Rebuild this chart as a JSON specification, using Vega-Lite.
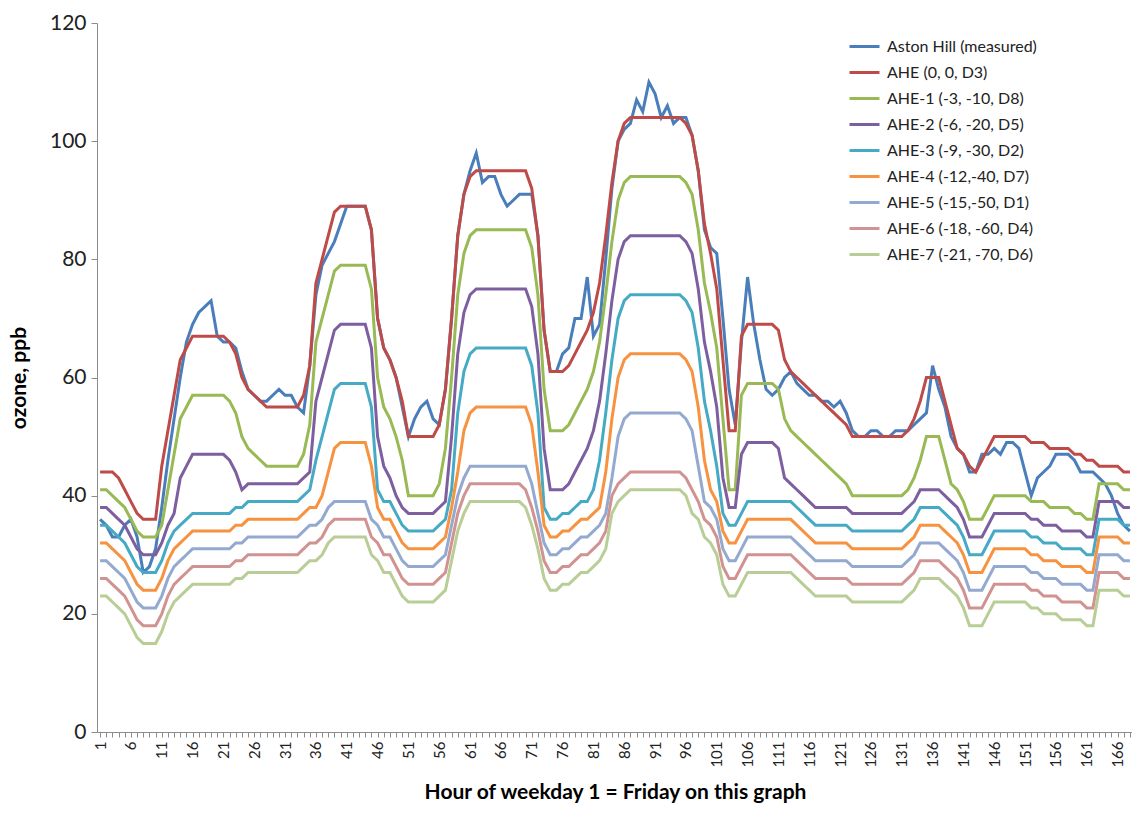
{
"$schema": "https://vega.github.io/schema/vega-lite/v6.json",
"width": 1036, "height": 709,
"autosize": {"type": "none"},
"padding": {"left": 97, "top": 23, "right": 0, "bottom": 82},
"background": "white",
"config": {"view": {"stroke": null}, "font": "Lato"},
"datasets": {
"names": [
{"key":"AH","series":"Aston Hill (measured)"},
{"key":"A0","series":"AHE (0, 0, D3)"},
{"key":"A1","series":"AHE-1 (-3, -10, D8)"},
{"key":"A2","series":"AHE-2 (-6, -20, D5)"},
{"key":"A3","series":"AHE-3 (-9, -30, D2)"},
{"key":"A4","series":"AHE-4 (-12,-40, D7)"},
{"key":"A5","series":"AHE-5 (-15,-50, D1)"},
{"key":"A6","series":"AHE-6 (-18, -60, D4)"},
{"key":"A7","series":"AHE-7 (-21, -70, D6)"}
],
"ozone": [
{"h":1,"AH":36,"A0":44,"A1":41,"A2":38,"A3":35,"A4":32,"A5":29,"A6":26,"A7":23},
{"h":2,"AH":35,"A0":44,"A1":41,"A2":38,"A3":35,"A4":32,"A5":29,"A6":26,"A7":23},
{"h":3,"AH":33,"A0":44,"A1":40,"A2":37,"A3":34,"A4":31,"A5":28,"A6":25,"A7":22},
{"h":4,"AH":33,"A0":43,"A1":39,"A2":36,"A3":33,"A4":30,"A5":27,"A6":24,"A7":21},
{"h":5,"AH":35,"A0":41,"A1":38,"A2":35,"A3":32,"A4":29,"A5":26,"A6":23,"A7":20},
{"h":6,"AH":36,"A0":39,"A1":36,"A2":33,"A3":30,"A4":27,"A5":24,"A6":21,"A7":18},
{"h":7,"AH":33,"A0":37,"A1":34,"A2":31,"A3":28,"A4":25,"A5":22,"A6":19,"A7":16},
{"h":8,"AH":27,"A0":36,"A1":33,"A2":30,"A3":27,"A4":24,"A5":21,"A6":18,"A7":15},
{"h":9,"AH":28,"A0":36,"A1":33,"A2":30,"A3":27,"A4":24,"A5":21,"A6":18,"A7":15},
{"h":10,"AH":31,"A0":36,"A1":33,"A2":30,"A3":27,"A4":24,"A5":21,"A6":18,"A7":15},
{"h":11,"AH":38,"A0":45,"A1":35,"A2":32,"A3":29,"A4":26,"A5":23,"A6":20,"A7":17},
{"h":12,"AH":46,"A0":51,"A1":41,"A2":35,"A3":32,"A4":29,"A5":26,"A6":23,"A7":20},
{"h":13,"AH":53,"A0":57,"A1":47,"A2":37,"A3":34,"A4":31,"A5":28,"A6":25,"A7":22},
{"h":14,"AH":60,"A0":63,"A1":53,"A2":43,"A3":35,"A4":32,"A5":29,"A6":26,"A7":23},
{"h":15,"AH":66,"A0":65,"A1":55,"A2":45,"A3":36,"A4":33,"A5":30,"A6":27,"A7":24},
{"h":16,"AH":69,"A0":67,"A1":57,"A2":47,"A3":37,"A4":34,"A5":31,"A6":28,"A7":25},
{"h":17,"AH":71,"A0":67,"A1":57,"A2":47,"A3":37,"A4":34,"A5":31,"A6":28,"A7":25},
{"h":18,"AH":72,"A0":67,"A1":57,"A2":47,"A3":37,"A4":34,"A5":31,"A6":28,"A7":25},
{"h":19,"AH":73,"A0":67,"A1":57,"A2":47,"A3":37,"A4":34,"A5":31,"A6":28,"A7":25},
{"h":20,"AH":67,"A0":67,"A1":57,"A2":47,"A3":37,"A4":34,"A5":31,"A6":28,"A7":25},
{"h":21,"AH":66,"A0":67,"A1":57,"A2":47,"A3":37,"A4":34,"A5":31,"A6":28,"A7":25},
{"h":22,"AH":66,"A0":66,"A1":56,"A2":46,"A3":37,"A4":34,"A5":31,"A6":28,"A7":25},
{"h":23,"AH":65,"A0":64,"A1":54,"A2":44,"A3":38,"A4":35,"A5":32,"A6":29,"A7":26},
{"h":24,"AH":61,"A0":60,"A1":50,"A2":41,"A3":38,"A4":35,"A5":32,"A6":29,"A7":26},
{"h":25,"AH":58,"A0":58,"A1":48,"A2":42,"A3":39,"A4":36,"A5":33,"A6":30,"A7":27},
{"h":26,"AH":57,"A0":57,"A1":47,"A2":42,"A3":39,"A4":36,"A5":33,"A6":30,"A7":27},
{"h":27,"AH":56,"A0":56,"A1":46,"A2":42,"A3":39,"A4":36,"A5":33,"A6":30,"A7":27},
{"h":28,"AH":56,"A0":55,"A1":45,"A2":42,"A3":39,"A4":36,"A5":33,"A6":30,"A7":27},
{"h":29,"AH":57,"A0":55,"A1":45,"A2":42,"A3":39,"A4":36,"A5":33,"A6":30,"A7":27},
{"h":30,"AH":58,"A0":55,"A1":45,"A2":42,"A3":39,"A4":36,"A5":33,"A6":30,"A7":27},
{"h":31,"AH":57,"A0":55,"A1":45,"A2":42,"A3":39,"A4":36,"A5":33,"A6":30,"A7":27},
{"h":32,"AH":57,"A0":55,"A1":45,"A2":42,"A3":39,"A4":36,"A5":33,"A6":30,"A7":27},
{"h":33,"AH":55,"A0":55,"A1":45,"A2":42,"A3":39,"A4":36,"A5":33,"A6":30,"A7":27},
{"h":34,"AH":54,"A0":57,"A1":47,"A2":43,"A3":40,"A4":37,"A5":34,"A6":31,"A7":28},
{"h":35,"AH":62,"A0":62,"A1":52,"A2":44,"A3":41,"A4":38,"A5":35,"A6":32,"A7":29},
{"h":36,"AH":74,"A0":76,"A1":66,"A2":56,"A3":46,"A4":38,"A5":35,"A6":32,"A7":29},
{"h":37,"AH":79,"A0":80,"A1":70,"A2":60,"A3":50,"A4":40,"A5":36,"A6":33,"A7":30},
{"h":38,"AH":81,"A0":84,"A1":74,"A2":64,"A3":54,"A4":44,"A5":38,"A6":35,"A7":32},
{"h":39,"AH":83,"A0":88,"A1":78,"A2":68,"A3":58,"A4":48,"A5":39,"A6":36,"A7":33},
{"h":40,"AH":86,"A0":89,"A1":79,"A2":69,"A3":59,"A4":49,"A5":39,"A6":36,"A7":33},
{"h":41,"AH":89,"A0":89,"A1":79,"A2":69,"A3":59,"A4":49,"A5":39,"A6":36,"A7":33},
{"h":42,"AH":89,"A0":89,"A1":79,"A2":69,"A3":59,"A4":49,"A5":39,"A6":36,"A7":33},
{"h":43,"AH":89,"A0":89,"A1":79,"A2":69,"A3":59,"A4":49,"A5":39,"A6":36,"A7":33},
{"h":44,"AH":89,"A0":89,"A1":79,"A2":69,"A3":59,"A4":49,"A5":39,"A6":36,"A7":33},
{"h":45,"AH":85,"A0":85,"A1":75,"A2":65,"A3":55,"A4":45,"A5":36,"A6":33,"A7":30},
{"h":46,"AH":70,"A0":70,"A1":60,"A2":50,"A3":41,"A4":38,"A5":35,"A6":32,"A7":29},
{"h":47,"AH":65,"A0":65,"A1":55,"A2":45,"A3":39,"A4":36,"A5":33,"A6":30,"A7":27},
{"h":48,"AH":63,"A0":63,"A1":53,"A2":43,"A3":39,"A4":36,"A5":33,"A6":30,"A7":27},
{"h":49,"AH":60,"A0":60,"A1":50,"A2":40,"A3":37,"A4":34,"A5":31,"A6":28,"A7":25},
{"h":50,"AH":55,"A0":56,"A1":46,"A2":38,"A3":35,"A4":32,"A5":29,"A6":26,"A7":23},
{"h":51,"AH":50,"A0":50,"A1":40,"A2":37,"A3":34,"A4":31,"A5":28,"A6":25,"A7":22},
{"h":52,"AH":53,"A0":50,"A1":40,"A2":37,"A3":34,"A4":31,"A5":28,"A6":25,"A7":22},
{"h":53,"AH":55,"A0":50,"A1":40,"A2":37,"A3":34,"A4":31,"A5":28,"A6":25,"A7":22},
{"h":54,"AH":56,"A0":50,"A1":40,"A2":37,"A3":34,"A4":31,"A5":28,"A6":25,"A7":22},
{"h":55,"AH":53,"A0":50,"A1":40,"A2":37,"A3":34,"A4":31,"A5":28,"A6":25,"A7":22},
{"h":56,"AH":52,"A0":52,"A1":42,"A2":38,"A3":35,"A4":32,"A5":29,"A6":26,"A7":23},
{"h":57,"AH":58,"A0":58,"A1":48,"A2":39,"A3":36,"A4":33,"A5":30,"A6":27,"A7":24},
{"h":58,"AH":70,"A0":70,"A1":60,"A2":50,"A3":41,"A4":38,"A5":35,"A6":32,"A7":29},
{"h":59,"AH":84,"A0":84,"A1":74,"A2":64,"A3":54,"A4":44,"A5":40,"A6":37,"A7":34},
{"h":60,"AH":91,"A0":91,"A1":81,"A2":71,"A3":61,"A4":51,"A5":43,"A6":40,"A7":37},
{"h":61,"AH":95,"A0":94,"A1":84,"A2":74,"A3":64,"A4":54,"A5":45,"A6":42,"A7":39},
{"h":62,"AH":98,"A0":95,"A1":85,"A2":75,"A3":65,"A4":55,"A5":45,"A6":42,"A7":39},
{"h":63,"AH":93,"A0":95,"A1":85,"A2":75,"A3":65,"A4":55,"A5":45,"A6":42,"A7":39},
{"h":64,"AH":94,"A0":95,"A1":85,"A2":75,"A3":65,"A4":55,"A5":45,"A6":42,"A7":39},
{"h":65,"AH":94,"A0":95,"A1":85,"A2":75,"A3":65,"A4":55,"A5":45,"A6":42,"A7":39},
{"h":66,"AH":91,"A0":95,"A1":85,"A2":75,"A3":65,"A4":55,"A5":45,"A6":42,"A7":39},
{"h":67,"AH":89,"A0":95,"A1":85,"A2":75,"A3":65,"A4":55,"A5":45,"A6":42,"A7":39},
{"h":68,"AH":90,"A0":95,"A1":85,"A2":75,"A3":65,"A4":55,"A5":45,"A6":42,"A7":39},
{"h":69,"AH":91,"A0":95,"A1":85,"A2":75,"A3":65,"A4":55,"A5":45,"A6":42,"A7":39},
{"h":70,"AH":91,"A0":95,"A1":85,"A2":75,"A3":65,"A4":55,"A5":45,"A6":41,"A7":38},
{"h":71,"AH":91,"A0":92,"A1":82,"A2":72,"A3":62,"A4":52,"A5":42,"A6":38,"A7":35},
{"h":72,"AH":84,"A0":84,"A1":74,"A2":64,"A3":54,"A4":44,"A5":37,"A6":34,"A7":31},
{"h":73,"AH":68,"A0":68,"A1":58,"A2":48,"A3":38,"A4":35,"A5":32,"A6":29,"A7":26},
{"h":74,"AH":61,"A0":61,"A1":51,"A2":41,"A3":36,"A4":33,"A5":30,"A6":27,"A7":24},
{"h":75,"AH":61,"A0":61,"A1":51,"A2":41,"A3":36,"A4":33,"A5":30,"A6":27,"A7":24},
{"h":76,"AH":64,"A0":61,"A1":51,"A2":41,"A3":37,"A4":34,"A5":31,"A6":28,"A7":25},
{"h":77,"AH":65,"A0":62,"A1":52,"A2":42,"A3":37,"A4":34,"A5":31,"A6":28,"A7":25},
{"h":78,"AH":70,"A0":64,"A1":54,"A2":44,"A3":38,"A4":35,"A5":32,"A6":29,"A7":26},
{"h":79,"AH":70,"A0":66,"A1":56,"A2":46,"A3":39,"A4":36,"A5":33,"A6":30,"A7":27},
{"h":80,"AH":77,"A0":68,"A1":58,"A2":48,"A3":39,"A4":36,"A5":33,"A6":30,"A7":27},
{"h":81,"AH":67,"A0":71,"A1":61,"A2":51,"A3":41,"A4":37,"A5":34,"A6":31,"A7":28},
{"h":82,"AH":69,"A0":76,"A1":66,"A2":56,"A3":46,"A4":38,"A5":35,"A6":32,"A7":29},
{"h":83,"AH":80,"A0":84,"A1":74,"A2":64,"A3":54,"A4":44,"A5":37,"A6":34,"A7":31},
{"h":84,"AH":92,"A0":93,"A1":83,"A2":73,"A3":63,"A4":53,"A5":43,"A6":40,"A7":37},
{"h":85,"AH":100,"A0":100,"A1":90,"A2":80,"A3":70,"A4":60,"A5":50,"A6":42,"A7":39},
{"h":86,"AH":102,"A0":103,"A1":93,"A2":83,"A3":73,"A4":63,"A5":53,"A6":43,"A7":40},
{"h":87,"AH":103,"A0":104,"A1":94,"A2":84,"A3":74,"A4":64,"A5":54,"A6":44,"A7":41},
{"h":88,"AH":107,"A0":104,"A1":94,"A2":84,"A3":74,"A4":64,"A5":54,"A6":44,"A7":41},
{"h":89,"AH":105,"A0":104,"A1":94,"A2":84,"A3":74,"A4":64,"A5":54,"A6":44,"A7":41},
{"h":90,"AH":110,"A0":104,"A1":94,"A2":84,"A3":74,"A4":64,"A5":54,"A6":44,"A7":41},
{"h":91,"AH":108,"A0":104,"A1":94,"A2":84,"A3":74,"A4":64,"A5":54,"A6":44,"A7":41},
{"h":92,"AH":104,"A0":104,"A1":94,"A2":84,"A3":74,"A4":64,"A5":54,"A6":44,"A7":41},
{"h":93,"AH":106,"A0":104,"A1":94,"A2":84,"A3":74,"A4":64,"A5":54,"A6":44,"A7":41},
{"h":94,"AH":103,"A0":104,"A1":94,"A2":84,"A3":74,"A4":64,"A5":54,"A6":44,"A7":41},
{"h":95,"AH":104,"A0":104,"A1":94,"A2":84,"A3":74,"A4":64,"A5":54,"A6":44,"A7":41},
{"h":96,"AH":104,"A0":103,"A1":93,"A2":83,"A3":73,"A4":63,"A5":53,"A6":43,"A7":40},
{"h":97,"AH":101,"A0":101,"A1":91,"A2":81,"A3":71,"A4":61,"A5":51,"A6":41,"A7":37},
{"h":98,"AH":95,"A0":95,"A1":85,"A2":75,"A3":65,"A4":55,"A5":45,"A6":39,"A7":36},
{"h":99,"AH":85,"A0":86,"A1":76,"A2":66,"A3":56,"A4":46,"A5":39,"A6":36,"A7":33},
{"h":100,"AH":82,"A0":81,"A1":71,"A2":61,"A3":51,"A4":41,"A5":38,"A6":35,"A7":32},
{"h":101,"AH":81,"A0":75,"A1":65,"A2":55,"A3":45,"A4":39,"A5":36,"A6":33,"A7":30},
{"h":102,"AH":70,"A0":63,"A1":53,"A2":43,"A3":37,"A4":34,"A5":31,"A6":28,"A7":25},
{"h":103,"AH":58,"A0":51,"A1":41,"A2":38,"A3":35,"A4":32,"A5":29,"A6":26,"A7":23},
{"h":104,"AH":52,"A0":51,"A1":41,"A2":38,"A3":35,"A4":32,"A5":29,"A6":26,"A7":23},
{"h":105,"AH":66,"A0":67,"A1":57,"A2":47,"A3":37,"A4":34,"A5":31,"A6":28,"A7":25},
{"h":106,"AH":77,"A0":69,"A1":59,"A2":49,"A3":39,"A4":36,"A5":33,"A6":30,"A7":27},
{"h":107,"AH":69,"A0":69,"A1":59,"A2":49,"A3":39,"A4":36,"A5":33,"A6":30,"A7":27},
{"h":108,"AH":63,"A0":69,"A1":59,"A2":49,"A3":39,"A4":36,"A5":33,"A6":30,"A7":27},
{"h":109,"AH":58,"A0":69,"A1":59,"A2":49,"A3":39,"A4":36,"A5":33,"A6":30,"A7":27},
{"h":110,"AH":57,"A0":69,"A1":59,"A2":49,"A3":39,"A4":36,"A5":33,"A6":30,"A7":27},
{"h":111,"AH":58,"A0":68,"A1":58,"A2":48,"A3":39,"A4":36,"A5":33,"A6":30,"A7":27},
{"h":112,"AH":60,"A0":63,"A1":53,"A2":43,"A3":39,"A4":36,"A5":33,"A6":30,"A7":27},
{"h":113,"AH":61,"A0":61,"A1":51,"A2":42,"A3":39,"A4":36,"A5":33,"A6":30,"A7":27},
{"h":114,"AH":59,"A0":60,"A1":50,"A2":41,"A3":38,"A4":35,"A5":32,"A6":29,"A7":26},
{"h":115,"AH":58,"A0":59,"A1":49,"A2":40,"A3":37,"A4":34,"A5":31,"A6":28,"A7":25},
{"h":116,"AH":57,"A0":58,"A1":48,"A2":39,"A3":36,"A4":33,"A5":30,"A6":27,"A7":24},
{"h":117,"AH":57,"A0":57,"A1":47,"A2":38,"A3":35,"A4":32,"A5":29,"A6":26,"A7":23},
{"h":118,"AH":56,"A0":56,"A1":46,"A2":38,"A3":35,"A4":32,"A5":29,"A6":26,"A7":23},
{"h":119,"AH":56,"A0":55,"A1":45,"A2":38,"A3":35,"A4":32,"A5":29,"A6":26,"A7":23},
{"h":120,"AH":55,"A0":54,"A1":44,"A2":38,"A3":35,"A4":32,"A5":29,"A6":26,"A7":23},
{"h":121,"AH":56,"A0":53,"A1":43,"A2":38,"A3":35,"A4":32,"A5":29,"A6":26,"A7":23},
{"h":122,"AH":54,"A0":52,"A1":42,"A2":38,"A3":35,"A4":32,"A5":29,"A6":26,"A7":23},
{"h":123,"AH":51,"A0":50,"A1":40,"A2":37,"A3":34,"A4":31,"A5":28,"A6":25,"A7":22},
{"h":124,"AH":50,"A0":50,"A1":40,"A2":37,"A3":34,"A4":31,"A5":28,"A6":25,"A7":22},
{"h":125,"AH":50,"A0":50,"A1":40,"A2":37,"A3":34,"A4":31,"A5":28,"A6":25,"A7":22},
{"h":126,"AH":51,"A0":50,"A1":40,"A2":37,"A3":34,"A4":31,"A5":28,"A6":25,"A7":22},
{"h":127,"AH":51,"A0":50,"A1":40,"A2":37,"A3":34,"A4":31,"A5":28,"A6":25,"A7":22},
{"h":128,"AH":50,"A0":50,"A1":40,"A2":37,"A3":34,"A4":31,"A5":28,"A6":25,"A7":22},
{"h":129,"AH":50,"A0":50,"A1":40,"A2":37,"A3":34,"A4":31,"A5":28,"A6":25,"A7":22},
{"h":130,"AH":51,"A0":50,"A1":40,"A2":37,"A3":34,"A4":31,"A5":28,"A6":25,"A7":22},
{"h":131,"AH":51,"A0":50,"A1":40,"A2":37,"A3":34,"A4":31,"A5":28,"A6":25,"A7":22},
{"h":132,"AH":51,"A0":51,"A1":41,"A2":38,"A3":35,"A4":32,"A5":29,"A6":26,"A7":23},
{"h":133,"AH":52,"A0":53,"A1":43,"A2":39,"A3":36,"A4":33,"A5":30,"A6":27,"A7":24},
{"h":134,"AH":53,"A0":56,"A1":46,"A2":41,"A3":38,"A4":35,"A5":32,"A6":29,"A7":26},
{"h":135,"AH":54,"A0":60,"A1":50,"A2":41,"A3":38,"A4":35,"A5":32,"A6":29,"A7":26},
{"h":136,"AH":62,"A0":60,"A1":50,"A2":41,"A3":38,"A4":35,"A5":32,"A6":29,"A7":26},
{"h":137,"AH":58,"A0":60,"A1":50,"A2":41,"A3":38,"A4":35,"A5":32,"A6":29,"A7":26},
{"h":138,"AH":55,"A0":56,"A1":46,"A2":40,"A3":37,"A4":34,"A5":31,"A6":28,"A7":25},
{"h":139,"AH":50,"A0":52,"A1":42,"A2":39,"A3":36,"A4":33,"A5":30,"A6":27,"A7":24},
{"h":140,"AH":48,"A0":48,"A1":41,"A2":38,"A3":35,"A4":32,"A5":29,"A6":26,"A7":23},
{"h":141,"AH":47,"A0":47,"A1":39,"A2":36,"A3":33,"A4":30,"A5":27,"A6":24,"A7":21},
{"h":142,"AH":44,"A0":45,"A1":36,"A2":33,"A3":30,"A4":27,"A5":24,"A6":21,"A7":18},
{"h":143,"AH":44,"A0":44,"A1":36,"A2":33,"A3":30,"A4":27,"A5":24,"A6":21,"A7":18},
{"h":144,"AH":47,"A0":46,"A1":36,"A2":33,"A3":30,"A4":27,"A5":24,"A6":21,"A7":18},
{"h":145,"AH":47,"A0":48,"A1":38,"A2":35,"A3":32,"A4":29,"A5":26,"A6":23,"A7":20},
{"h":146,"AH":48,"A0":50,"A1":40,"A2":37,"A3":34,"A4":31,"A5":28,"A6":25,"A7":22},
{"h":147,"AH":47,"A0":50,"A1":40,"A2":37,"A3":34,"A4":31,"A5":28,"A6":25,"A7":22},
{"h":148,"AH":49,"A0":50,"A1":40,"A2":37,"A3":34,"A4":31,"A5":28,"A6":25,"A7":22},
{"h":149,"AH":49,"A0":50,"A1":40,"A2":37,"A3":34,"A4":31,"A5":28,"A6":25,"A7":22},
{"h":150,"AH":48,"A0":50,"A1":40,"A2":37,"A3":34,"A4":31,"A5":28,"A6":25,"A7":22},
{"h":151,"AH":44,"A0":50,"A1":40,"A2":37,"A3":34,"A4":31,"A5":28,"A6":25,"A7":22},
{"h":152,"AH":40,"A0":49,"A1":39,"A2":36,"A3":33,"A4":30,"A5":27,"A6":24,"A7":21},
{"h":153,"AH":43,"A0":49,"A1":39,"A2":36,"A3":33,"A4":30,"A5":27,"A6":24,"A7":21},
{"h":154,"AH":44,"A0":49,"A1":39,"A2":35,"A3":32,"A4":29,"A5":26,"A6":23,"A7":20},
{"h":155,"AH":45,"A0":48,"A1":38,"A2":35,"A3":32,"A4":29,"A5":26,"A6":23,"A7":20},
{"h":156,"AH":47,"A0":48,"A1":38,"A2":35,"A3":32,"A4":29,"A5":26,"A6":23,"A7":20},
{"h":157,"AH":47,"A0":48,"A1":38,"A2":34,"A3":31,"A4":28,"A5":25,"A6":22,"A7":19},
{"h":158,"AH":47,"A0":48,"A1":38,"A2":34,"A3":31,"A4":28,"A5":25,"A6":22,"A7":19},
{"h":159,"AH":46,"A0":47,"A1":37,"A2":34,"A3":31,"A4":28,"A5":25,"A6":22,"A7":19},
{"h":160,"AH":44,"A0":47,"A1":37,"A2":34,"A3":31,"A4":28,"A5":25,"A6":22,"A7":19},
{"h":161,"AH":44,"A0":46,"A1":36,"A2":33,"A3":30,"A4":27,"A5":24,"A6":21,"A7":18},
{"h":162,"AH":44,"A0":46,"A1":36,"A2":33,"A3":30,"A4":27,"A5":24,"A6":21,"A7":18},
{"h":163,"AH":43,"A0":45,"A1":42,"A2":39,"A3":36,"A4":33,"A5":30,"A6":27,"A7":24},
{"h":164,"AH":42,"A0":45,"A1":42,"A2":39,"A3":36,"A4":33,"A5":30,"A6":27,"A7":24},
{"h":165,"AH":40,"A0":45,"A1":42,"A2":39,"A3":36,"A4":33,"A5":30,"A6":27,"A7":24},
{"h":166,"AH":37,"A0":45,"A1":42,"A2":39,"A3":36,"A4":33,"A5":30,"A6":27,"A7":24},
{"h":167,"AH":35,"A0":44,"A1":41,"A2":38,"A3":35,"A4":32,"A5":29,"A6":26,"A7":23},
{"h":168,"AH":34,"A0":44,"A1":41,"A2":38,"A3":35,"A4":32,"A5":29,"A6":26,"A7":23}
]
},
"data": {"name": "ozone"},
"transform": [
{"fold": ["AH","A0","A1","A2","A3","A4","A5","A6","A7"], "as": ["key","ozone"]},
{"lookup": "key", "from": {"data": {"name": "names"}, "key": "key", "fields": ["series"]}}
],
"encoding": {
"x": {"field": "h", "type": "quantitative",
 "scale": {"domain": [0.5, 168.5], "nice": false, "zero": false},
 "axis": {"title": "Hour of weekday 1 = Friday on this graph",
  "values": [1,2,3,4,5,6,7,8,9,10,11,12,13,14,15,16,17,18,19,20,21,22,23,24,25,26,27,28,29,30,31,32,33,34,35,36,37,38,39,40,41,42,43,44,45,46,47,48,49,50,51,52,53,54,55,56,57,58,59,60,61,62,63,64,65,66,67,68,69,70,71,72,73,74,75,76,77,78,79,80,81,82,83,84,85,86,87,88,89,90,91,92,93,94,95,96,97,98,99,100,101,102,103,104,105,106,107,108,109,110,111,112,113,114,115,116,117,118,119,120,121,122,123,124,125,126,127,128,129,130,131,132,133,134,135,136,137,138,139,140,141,142,143,144,145,146,147,148,149,150,151,152,153,154,155,156,157,158,159,160,161,162,163,164,165,166,167,168],
  "labelExpr": "(datum.value - 1) % 5 === 0 ? datum.label : ''",
  "labelAngle": -90, "labelFontSize": 15, "labelColor": "#222222", "labelOverlap": false, "labelFlush": false, "labelPadding": 4,
  "tickSize": 5, "tickColor": "#8c8c8c", "domainColor": "#8c8c8c", "grid": false,
  "titleFontSize": 21, "titleFontWeight": "bold", "titleColor": "#000000", "titlePadding": 14}},
"y": {"field": "ozone", "type": "quantitative",
 "scale": {"domain": [0, 120], "nice": false},
 "axis": {"title": "ozone, ppb", "values": [0,20,40,60,80,100,120],
  "labelFontSize": 21, "labelColor": "#222222", "labelPadding": 5, "tickSize": 6, "tickColor": "#8c8c8c", "domainColor": "#8c8c8c", "grid": false,
  "titleFontSize": 21, "titleFontWeight": "bold", "titleColor": "#000000", "titlePadding": 20}},
"color": {"field": "series", "type": "nominal",
 "scale": {"domain": ["Aston Hill (measured)","AHE (0, 0, D3)","AHE-1 (-3, -10, D8)","AHE-2 (-6, -20, D5)","AHE-3 (-9, -30, D2)","AHE-4 (-12,-40, D7)","AHE-5 (-15,-50, D1)","AHE-6 (-18, -60, D4)","AHE-7 (-21, -70, D6)"],
  "range": ["#4A7EBB","#BE4B48","#98B954","#7D5FA0","#46AAC4","#F69240","#93A9CF","#D19392","#B9CD96"]},
 "legend": {"orient": "none", "legendX": 751, "legendY": 7, "title": null, "padding": 0,
  "symbolType": "stroke", "symbolSize": 900, "symbolStrokeWidth": 3, "rowPadding": 1,
  "labelFontSize": 16, "labelColor": "#222222", "labelLimit": 300, "labelOffset": 6}}
},
"layer": [
{"transform": [{"filter": "datum.key === 'AH'"}], "mark": {"type": "line", "strokeWidth": 3}},
{"transform": [{"filter": "datum.key !== 'AH'"}], "mark": {"type": "line", "strokeWidth": 3}}
]
}
